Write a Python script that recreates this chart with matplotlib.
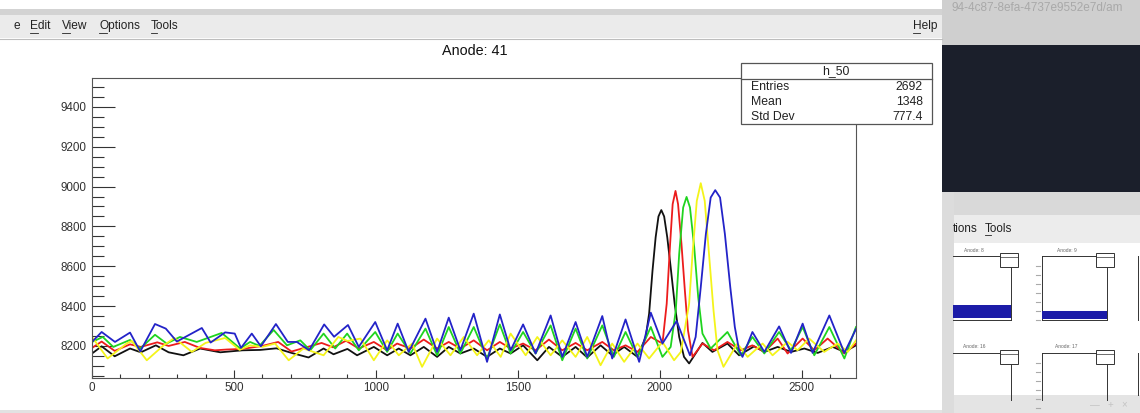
import matplotlib
matplotlib.use("Agg")
import matplotlib.pyplot as plt
from matplotlib.patches import Rectangle
from matplotlib.lines import Line2D
from matplotlib.ticker import MultipleLocator

plt.rcParams["font.family"] = ["Liberation Sans", "DejaVu Sans"]

W, H = 1140, 413

# anode 41 waveforms, one per channel (sample index, ADC counts)
black_x = [0, 34, 80, 134, 172, 225, 270, 322, 381, 452, 530, 593, 650, 703, 763, 816, 851, 900,
           934, 993, 1040, 1081, 1122, 1169, 1216, 1257, 1298, 1345, 1392, 1437, 1475, 1519, 1569,
           1610, 1657, 1704, 1745, 1792, 1833, 1875, 1922, 1951, 1963, 1975, 1986, 1996, 2006, 2016,
           2027, 2039, 2053, 2069, 2086, 2104, 2151, 2186, 2239, 2280, 2333, 2369, 2416, 2463, 2510,
           2557, 2610, 2651, 2692]
black_y = [8162, 8198, 8148, 8187, 8168, 8203, 8168, 8153, 8187, 8168, 8178, 8180, 8188, 8165, 8142,
           8187, 8158, 8185, 8153, 8195, 8153, 8187, 8153, 8195, 8145, 8195, 8162, 8187, 8145, 8187,
           8162, 8203, 8128, 8195, 8145, 8195, 8142, 8203, 8153, 8195, 8145, 8245, 8362, 8578, 8745,
           8850, 8882, 8850, 8745, 8595, 8412, 8245, 8145, 8112, 8215, 8170, 8212, 8153, 8198, 8170,
           8195, 8170, 8187, 8165, 8195, 8170, 8203]

red_x = [0, 34, 80, 134, 172, 230, 270, 327, 380, 433, 475, 530, 600, 656, 703, 760, 809, 850, 895,
         940, 993, 1040, 1075, 1122, 1169, 1216, 1257, 1298, 1345, 1392, 1437, 1475, 1519, 1563,
         1610, 1657, 1704, 1745, 1798, 1839, 1880, 1922, 1969, 2010, 2025, 2037, 2046, 2056, 2065,
         2077, 2089, 2100, 2116, 2151, 2192, 2239, 2286, 2327, 2369, 2416, 2451, 2504, 2545, 2592,
         2651, 2692]
red_y = [8190, 8222, 8175, 8208, 8195, 8218, 8200, 8220, 8190, 8178, 8182, 8185, 8200, 8220, 8172,
         8195, 8215, 8193, 8226, 8187, 8220, 8178, 8212, 8187, 8232, 8187, 8220, 8187, 8228, 8178,
         8220, 8187, 8212, 8178, 8232, 8178, 8215, 8178, 8220, 8178, 8203, 8170, 8245, 8212, 8412,
         8712, 8912, 8978, 8912, 8712, 8478, 8278, 8145, 8212, 8178, 8220, 8178, 8203, 8170, 8237,
         8162, 8237, 8178, 8237, 8162, 8212]

green_x = [0, 38, 75, 134, 170, 222, 263, 310, 369, 457, 522, 557, 590, 640, 687, 734, 769, 816, 857,
           899, 940, 998, 1040, 1077, 1122, 1175, 1216, 1257, 1298, 1345, 1392, 1437, 1475, 1519,
           1563, 1616, 1657, 1704, 1745, 1798, 1839, 1880, 1922, 1969, 2010, 2039, 2057, 2069, 2083,
           2095, 2107, 2122, 2136, 2151, 2180, 2239, 2286, 2327, 2369, 2421, 2463, 2504, 2545, 2598,
           2651, 2692]
green_y = [8220, 8245, 8195, 8230, 8187, 8256, 8212, 8245, 8220, 8265, 8187, 8220, 8200, 8280, 8203,
           8228, 8178, 8262, 8187, 8262, 8178, 8270, 8170, 8262, 8162, 8287, 8153, 8295, 8162, 8295,
           8137, 8308, 8162, 8270, 8162, 8303, 8128, 8287, 8137, 8303, 8145, 8270, 8145, 8295, 8145,
           8195, 8378, 8662, 8895, 8948, 8895, 8695, 8445, 8262, 8187, 8270, 8153, 8245, 8162, 8270,
           8178, 8295, 8153, 8295, 8137, 8295]

yellow_x = [0, 55, 122, 140, 193, 250, 290, 352, 400, 469, 520, 557, 600, 645, 693, 745, 816, 868,
            900, 946, 993, 1040, 1081, 1128, 1163, 1216, 1263, 1310, 1357, 1398, 1440, 1475, 1528,
            1569, 1616, 1657, 1704, 1745, 1792, 1833, 1875, 1922, 1963, 2010, 2051, 2075, 2104, 2116,
            2131, 2145, 2159, 2174, 2190, 2204, 2225, 2274, 2310, 2363, 2398, 2451, 2486, 2527, 2580,
            2627, 2663, 2692]
yellow_y = [8245, 8137, 8212, 8225, 8128, 8200, 8240, 8170, 8215, 8240, 8180, 8203, 8195, 8212, 8128,
            8187, 8153, 8245, 8225, 8237, 8128, 8228, 8153, 8212, 8095, 8237, 8153, 8245, 8153, 8228,
            8145, 8262, 8153, 8245, 8153, 8228, 8145, 8245, 8103, 8212, 8120, 8212, 8137, 8220, 8128,
            8170, 8412, 8662, 8928, 9017, 8928, 8662, 8378, 8178, 8095, 8212, 8145, 8212, 8153, 8220,
            8178, 8237, 8170, 8212, 8170, 8228]

blue_x = [0, 34, 81, 134, 170, 222, 260, 299, 387, 418, 469, 503, 525, 563, 595, 648, 690, 722, 765,
          818, 853, 902, 940, 998, 1040, 1077, 1116, 1175, 1216, 1257, 1298, 1345, 1392, 1437, 1475,
          1519, 1563, 1616, 1657, 1704, 1745, 1798, 1833, 1880, 1928, 1969, 2010, 2060, 2107, 2127,
          2145, 2163, 2180, 2196, 2213, 2230, 2249, 2265, 2280, 2292, 2327, 2369, 2421, 2463, 2504,
          2539, 2598, 2651, 2692]
blue_y = [8220, 8270, 8220, 8267, 8172, 8310, 8287, 8222, 8290, 8217, 8268, 8262, 8190, 8262, 8198,
          8310, 8220, 8220, 8178, 8308, 8246, 8305, 8195, 8320, 8178, 8312, 8170, 8337, 8170, 8342,
          8178, 8362, 8120, 8358, 8178, 8308, 8162, 8353, 8145, 8320, 8145, 8350, 8137, 8333, 8120,
          8367, 8212, 8325, 8153, 8245, 8495, 8762, 8945, 8982, 8945, 8762, 8495, 8295, 8178, 8145,
          8270, 8170, 8298, 8165, 8312, 8165, 8353, 8165, 8285]

series = [
    (black_x, black_y, "#111111"),
    (red_x, red_y, "#ec1c1c"),
    (green_x, green_y, "#1fd41f"),
    (yellow_x, yellow_y, "#f4f41a"),
    (blue_x, blue_y, "#2323c8"),
]

stats_title = "h_50"
stats_rows = [("Entries", "2692"), ("Mean", "1348"), ("Std Dev", "777.4")]
menu_items = ["e", "Edit", "View", "Options", "Tools"]
menu_x = [14, 30, 62, 99, 151]

fig = plt.figure(figsize=(W / 100, H / 100), dpi=100)
fig.patch.set_facecolor("white")


def box(x0, y0, x1, y1, fc, ec="none", lw=0, z=0):
    # rectangle in screen pixels, origin top-left
    fig.add_artist(Rectangle((x0 / W, 1 - y1 / H), (x1 - x0) / W, (y1 - y0) / H,
                             transform=fig.transFigure, facecolor=fc, edgecolor=ec,
                             linewidth=lw, zorder=z))


def hline(x0, x1, y, color, lw=0.8, z=1):
    fig.add_artist(Line2D([x0 / W, x1 / W], [1 - y / H, 1 - y / H], transform=fig.transFigure,
                          color=color, lw=lw, zorder=z))


def vline(x, y0, y1, color, lw=0.8, z=1):
    fig.add_artist(Line2D([x / W, x / W], [1 - y0 / H, 1 - y1 / H], transform=fig.transFigure,
                          color=color, lw=lw, zorder=z))


def label(x, y, s, size, color="#222222", ha="left", z=6):
    fig.text(x / W, 1 - y / H, s, fontsize=size, color=color, ha=ha, va="center", zorder=z)


# main window chrome
box(0, 9, 942, 15, "#d3d3d3")
box(0, 15, 942, 38, "#ebebeb")
hline(0, 942, 38.5, "#bdbdbd", lw=0.8)
box(0, 410, 942, 413, "#e2e2e2")
for s, x in zip(menu_items, menu_x):
    label(x, 26, s, 8.6)
    if s != "e":
        t = fig.text(0, 0, s[0], fontsize=8.6)
        hline(x, x + (8 if s[0] in "EVO" else 6), 32.5, "#222222", lw=0.6)
        t.remove()
label(913, 26, "Help", 8.6)
hline(913, 920, 32.5, "#222222", lw=0.6)

# neighbouring window on the right
box(942, 0, W, 45, "#cfcfcf")
label(952, 8, "94-4c87-8efa-4737e9552e7d/am", 8.5, color="#a9a9a9")
box(942, 45, W, 192, "#1b1f2b")
box(942, 192, W, 215, "#d9d9d9")
box(942, 215, W, 243, "#ececec")
box(942, 243, W, 395, "white")
box(942, 395, W, 413, "#e4e4e4")
box(942, 192, 954, 413, "#dcdcdc")
label(953, 229, "tions", 8.4)
label(985, 229, "Tools", 8.4)
hline(985, 991, 235, "#222222", lw=0.6)
label(1090, 405, "\u2014   +   \u00d7", 7, color="#c4c4c4")

# small overview pads
pads = [(953, 256, 1011, 320, "Anode: 8", 305, 318),
        (1042, 256, 1107, 320, "Anode: 9", 311, 319),
        (953, 353, 1011, 400, "Anode: 16", None, None),
        (1042, 353, 1107, 400, "Anode: 17", None, None)]
for x0, y0, x1, y1, name, b0, b1 in pads:
    hline(x0, x1, y0, "#333333", lw=0.7, z=2)
    vline(x1, y0, y1, "#333333", lw=0.7, z=2)
    if x0 > 1000:
        vline(x0, y0, y1, "#333333", lw=0.7, z=2)
        for k in range(7):
            hline(x0 - 6, x0 - 2, y0 + 10 + 9 * k, "#aaaaaa", lw=0.8, z=2)
    if y1 < 330:
        hline(x0, x1, y1, "#333333", lw=0.7, z=2)
    label((x0 + x1) / 2 - 8, y0 - 6, name, 3.5, color="#666666", ha="center")
    if b0 is not None:
        box(x0, b0, x1, b1, "#1c1ca8", z=2)
    box(x1 - 11, y0 - 3, x1 + 7, y0 + 11, "white", ec="#333333", lw=0.7, z=3)
    hline(x1 - 11, x1 + 7, y0 + 1, "#333333", lw=0.5, z=4)
vline(1138, 256, 320, "#333333", lw=0.7)
vline(1138, 353, 395, "#333333", lw=0.7)

# main histogram pad
ax = fig.add_axes([92 / W, 1 - 378 / H, 764 / W, 300 / H])
for xs, ys, c in series:
    ax.plot(xs, ys, color=c, lw=1.3, solid_joinstyle="round")

ax.set_xlim(0, 2692)
ax.set_ylim(8039, 9545)
ax.xaxis.set_major_locator(MultipleLocator(500))
ax.xaxis.set_minor_locator(MultipleLocator(100))
ax.yaxis.set_major_locator(MultipleLocator(200))
ax.yaxis.set_minor_locator(MultipleLocator(50))
ax.tick_params(axis="both", which="both", direction="in", color="#333333", width=0.8,
               labelcolor="#333333", labelsize=8.4)
ax.tick_params(axis="y", which="major", length=16.6, pad=4.3)
ax.tick_params(axis="y", which="minor", length=8.6)
ax.tick_params(axis="x", which="major", length=5.8, pad=2.8)
ax.tick_params(axis="x", which="minor", length=3.2)
for sp in ax.spines.values():
    sp.set_color("#555555")
    sp.set_linewidth(0.8)

label(475, 51, "Anode: 41", 10.4, color="#111111", ha="center")

# statistics box
box(741, 63, 932, 124, "white", ec="#555555", lw=0.9, z=5)
hline(741, 932, 79, "#555555", lw=0.9, z=6)
label(836, 71, stats_title, 8.8, ha="center")
for i, (k, v) in enumerate(stats_rows):
    label(751, 87 + 15 * i, k, 8.8)
    label(923, 87 + 15 * i, v, 8.8, ha="right")

fig.savefig("out.png", dpi=100)
